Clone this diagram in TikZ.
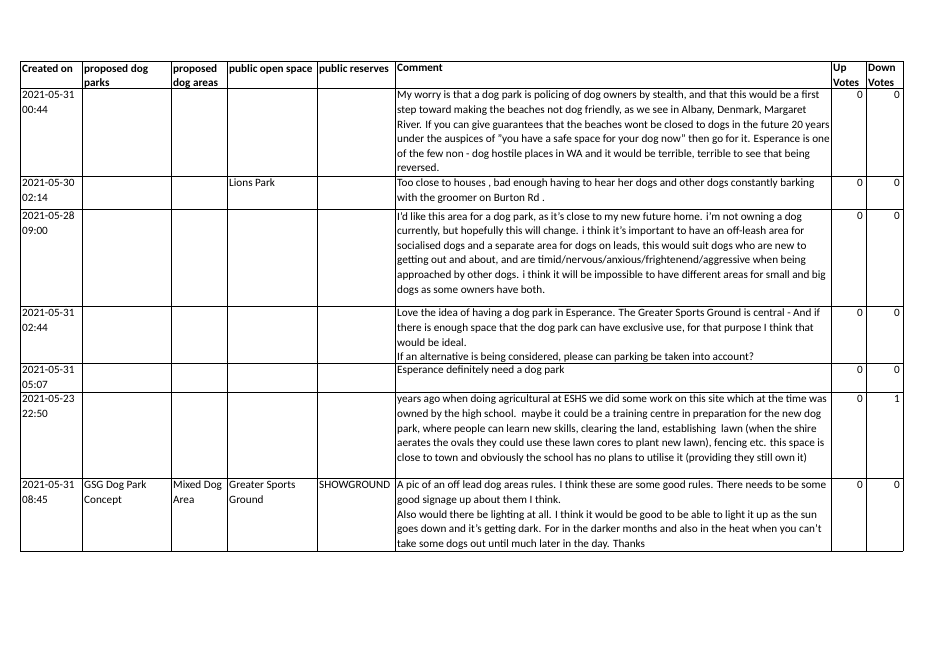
\documentclass[tikz,border=0pt]{standalone}
\usepackage{fontspec}
\setmainfont{Carlito}
\begin{document}
\begin{tikzpicture}[x=1pt,y=-1pt,
 cell/.style={anchor=north west,inner sep=0pt,align=left,font=\fontsize{11.2}{14.6}\selectfont},
 hcell/.style={cell,font=\fontsize{11.2}{14.6}\selectfont\bfseries},
 num/.style={anchor=north east,inner sep=0pt,font=\fontsize{11.2}{14.6}\selectfont},
 grid/.style={line width=0.9pt,black}]
\useasboundingbox (0,0) rectangle (929,657);
\def\xa{20}\def\xb{82}\def\xc{171}\def\xd{227}\def\xe{317}\def\xf{395}\def\xg{831}\def\xh{866}\def\xi{903}
\foreach \y in {61,88,176,209,306,363,392,478,551}{\draw[grid] (\xa,\y) -- (\xi,\y);}
\foreach \x in {\xa,\xb,\xc,\xd,\xe,\xf,\xg,\xh,\xi}{\draw[grid] (\x,61) -- (\x,551);}
% header
\node[hcell] (h1) at (\xa+2,64) {Created on};
\node[hcell] (h2) at (\xb+2,64) {proposed dog\\parks};
\node[hcell] (h3) at (\xc+2,64) {proposed\\dog areas};
\node[hcell] (h4) at (\xd+2,64) {public open space};
\node[hcell] (h5) at (\xe+2,64) {public reserves};
\node[hcell] (h6) at (\xf+2,64) {Comment};
\node[hcell] (h7) at (\xg+2,64) {Up\\Votes};
\node[hcell] (h8) at (\xh+2,64) {Down\\Votes};
% row 1
\node[cell] (d1) at (\xa+2,91) {2021-05-31\\00:44};
\node[cell] (c1) at (\xf+2,91) {My worry is that a dog park is policing of dog owners by stealth, and that this would be a first\\step toward making the beaches not dog friendly, as we see in Albany, Denmark, Margaret\\River. If you can give guarantees that the beaches wont be closed to dogs in the future 20 years\\under the auspices of \char34 you have a safe space for your dog now\char34\ then go for it. Esperance is one\\of the few non - dog hostile places in WA and it would be terrible, terrible to see that being\\reversed.};
\node[num] (u1) at (\xh-3,91) {0};\node[num] (v1) at (\xi-3,91) {0};
% row 2
\node[cell] (d2) at (\xa+2,179) {2021-05-30\\02:14};
\node[cell] (p2) at (\xd+2,179) {Lions Park};
\node[cell] (c2) at (\xf+2,179) {Too close to houses , bad enough having to hear her dogs and other dogs constantly barking\\with the groomer on Burton Rd .};
\node[num] (u2) at (\xh-3,179) {0};\node[num] (v2) at (\xi-3,179) {0};
% row 3
\node[cell] (d3) at (\xa+2,212) {2021-05-28\\09:00};
\node[cell] (c3) at (\xf+2,212) {I'd like this area for a dog park, as it's close to my new future home. i'm not owning a dog\\currently, but hopefully this will change. i think it's important to have an off-leash area for\\socialised dogs and a separate area for dogs on leads, this would suit dogs who are new to\\getting out and about, and are timid/nervous/anxious/frightenend/aggressive when being\\approached by other dogs. i think it will be impossible to have different areas for small and big\\dogs as some owners have both.};
\node[num] (u3) at (\xh-3,212) {0};\node[num] (v3) at (\xi-3,212) {0};
% row 4
\node[cell] (d4) at (\xa+2,309) {2021-05-31\\02:44};
\node[cell] (c4) at (\xf+2,309) {Love the idea of having a dog park in Esperance. The Greater Sports Ground is central - And if\\there is enough space that the dog park can have exclusive use, for that purpose I think that\\would be ideal.\\If an alternative is being considered, please can parking be taken into account?};
\node[num] (u4) at (\xh-3,309) {0};\node[num] (v4) at (\xi-3,309) {0};
% row 5
\node[cell] (d5) at (\xa+2,366) {2021-05-31\\05:07};
\node[cell] (c5) at (\xf+2,366) {Esperance definitely need a dog park};
\node[num] (u5) at (\xh-3,366) {0};\node[num] (v5) at (\xi-3,366) {0};
% row 6
\node[cell] (d6) at (\xa+2,395) {2021-05-23\\22:50};
\node[cell] (c6) at (\xf+2,395) {years ago when doing agricultural at ESHS we did some work on this site which at the time was\\owned by the high school.\ \ maybe it could be a training centre in preparation for the new dog\\park, where people can learn new skills, clearing the land, establishing\ \ lawn (when the shire\\aerates the ovals they could use these lawn cores to plant new lawn), fencing etc. this space is\\close to town and obviously the school has no plans to utilise it (providing they still own it)};
\node[num] (u6) at (\xh-3,395) {0};\node[num] (v6) at (\xi-3,395) {1};
% row 7
\node[cell] (d7) at (\xa+2,481) {2021-05-31\\08:45};
\node[cell] (a7) at (\xb+2,481) {GSG Dog Park\\Concept};
\node[cell] (b7) at (\xc+2,481) {Mixed Dog\\Area};
\node[cell] (p7) at (\xd+2,481) {Greater Sports\\Ground};
\node[cell] (r7) at (\xe+2,481) {SHOWGROUND};
\node[cell] (c7) at (\xf+2,481) {A pic of an off lead dog areas rules. I think these are some good rules. There needs to be some\\good signage up about them I think.\\Also would there be lighting at all. I think it would be good to be able to light it up as the sun\\goes down and it’s getting dark. For in the darker months and also in the heat when you can’t\\take some dogs out until much later in the day. Thanks};
\node[num] (u7) at (\xh-3,481) {0};\node[num] (v7) at (\xi-3,481) {0};
\end{tikzpicture}
\end{document}
